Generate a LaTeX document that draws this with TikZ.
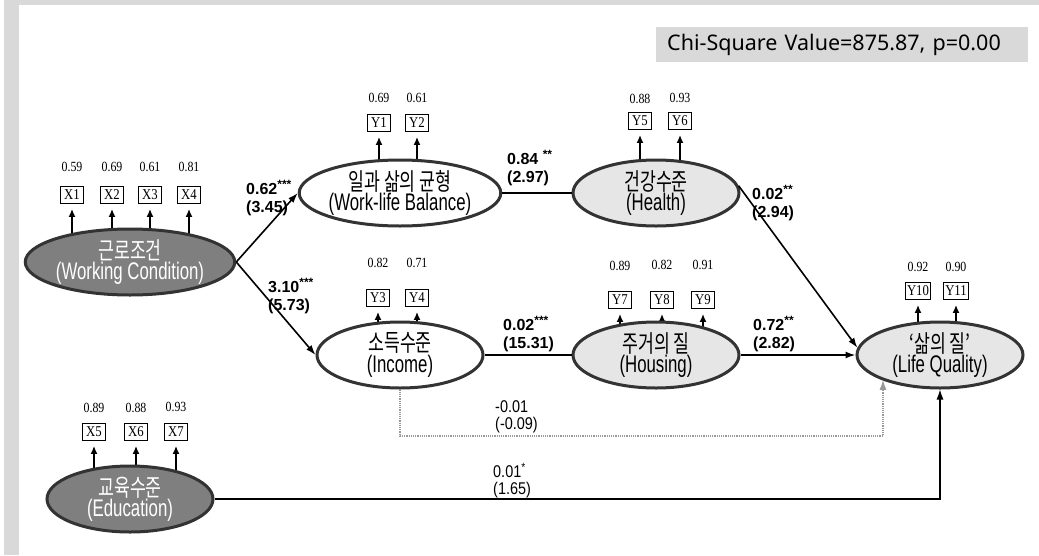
\documentclass[tikz,border=0pt]{standalone}
\usepackage{fontspec}
\setmainfont{Liberation Serif}
\newfontfamily\krfont[FakeStretch=0.72]{Noto Sans CJK KR}
\newfontfamily\narrowfont[FakeStretch=0.7]{Liberation Sans}
\newfontfamily\narrowbfont[FakeStretch=0.85]{Liberation Sans}
\newfontfamily\labfont{Liberation Sans}
\newfontfamily\serifnarrow[FakeStretch=0.85]{Liberation Serif}
\newfontfamily\chifont{Noto Sans}
\usetikzlibrary{shapes.geometric,arrows.meta}
\pgfdeclarelayer{back}
\pgfdeclarelayer{bg}
\pgfsetlayers{back,bg,main}
\definecolor{dkfill}{HTML}{7F7F7F}
\definecolor{ltfill}{HTML}{E6E6E6}
\definecolor{edgec}{HTML}{333333}
\definecolor{framec}{HTML}{D9D9D9}
\definecolor{chibg}{HTML}{D9D9D9}
\newcommand{\lv}[2]{{\krfont\fontsize{24}{26}\selectfont #1}\\{\narrowfont\fontsize{24}{26}\selectfont #2}}
\newcommand{\st}[1]{\raisebox{6pt}{\fontsize{12}{12}\selectfont #1}}
\tikzset{
  lat/.style={ellipse, draw=edgec, line width=3pt, minimum width=166, minimum height=66, inner sep=0pt, align=center},
  latdark/.style={lat, fill=dkfill, text=white},
  latlight/.style={lat, fill=ltfill},
  latwhite/.style={lat, fill=white},
  ind/.style={draw, line width=0.8pt, minimum width=23, minimum height=17, inner sep=1.5pt, font=\serifnarrow\fontsize{15}{15}\selectfont},
  ld/.style={inner sep=0pt, font=\serifnarrow\fontsize{14}{14}\selectfont},
  indarr/.style={-{Latex[length=8pt,width=7pt]}, line width=1.9pt, shorten >=5pt},
  pth/.style={line width=1.6pt, draw=black},
  parr/.style={pth, -{Latex[length=10pt,width=7pt]}},
  coef/.style={anchor=west, inner sep=0pt, align=left, font=\labfont\bfseries\fontsize{16}{18}\selectfont},
  coefn/.style={anchor=west, inner sep=0pt, align=left, font=\narrowbfont\fontsize{17}{17}\selectfont},
  chibox/.style={fill=chibg, anchor=west, text width=350, inner xsep=11, minimum height=35, align=left, font=\chifont\fontsize{21.5}{21.5}\selectfont}
}
\begin{document}
\begin{tikzpicture}[x=1pt,y=-1pt]
\useasboundingbox (0,0) rectangle (1039,555);
\begin{pgfonlayer}{back}
\fill[white] (0,0) rectangle (1039,555);
\fill[framec] (4,0) rectangle (19,555);
\fill[framec] (4,0) rectangle (1039,5);
\end{pgfonlayer}

\node[chibox] (chi) at (656,44.5) {Chi-Square Value=875.87, p=0.00};

% latent variables
\node[latdark]  (wc)  at (130,262) {\lv{근로조건}{(Working Condition)}};
\node[latwhite] (wlb) at (400,193) {\lv{일과 삶의 균형}{(Work-life Balance)}};
\node[latlight] (hl)  at (656,193) {\lv{건강수준}{(Health)}};
\node[latwhite] (inc) at (400,355) {\lv{소득수준}{(Income)}};
\node[latlight] (hs)  at (656,355) {\lv{주거의 질}{(Housing)}};
\node[latlight] (lq)  at (940,355) {\lv{‘삶의 질’}{(Life Quality)}};
\node[latdark]  (edu) at (130,499) {\lv{교육수준}{(Education)}};

% indicators
\node[ind] (x1) at (72,195) {X1};   \node[ld] (lx1) at (72,167) {0.59};
\node[ind] (x2) at (112,195) {X2};  \node[ld] (lx2) at (112,167) {0.69};
\node[ind] (x3) at (150,195) {X3};  \node[ld] (lx3) at (150,167) {0.61};
\node[ind] (x4) at (189,195) {X4};  \node[ld] (lx4) at (189,167) {0.81};

\node[ind] (y1) at (379,123) {Y1};  \node[ld] (ly1) at (379,98) {0.69};
\node[ind] (y2) at (417,123) {Y2};  \node[ld] (ly2) at (417,98) {0.61};
\node[ind] (y5) at (640,121) {Y5};  \node[ld] (ly5) at (640,99) {0.88};
\node[ind] (y6) at (680,121) {Y6};  \node[ld] (ly6) at (680,98) {0.93};

\node[ind] (y3) at (378,298) {Y3};  \node[ld] (ly3) at (378,263) {0.82};
\node[ind] (y4) at (417,298) {Y4};  \node[ld] (ly4) at (417,263) {0.71};
\node[ind] (y7) at (620,300) {Y7};  \node[ld] (ly7) at (620,266) {0.89};
\node[ind] (y8) at (662,300) {Y8};  \node[ld] (ly8) at (662,265) {0.82};
\node[ind] (y9) at (703,300) {Y9};  \node[ld] (ly9) at (703,265) {0.91};

\node[ind] (y10) at (918,291) {Y10}; \node[ld] (ly10) at (918,267) {0.92};
\node[ind] (y11) at (956,291) {Y11}; \node[ld] (ly11) at (956,267) {0.90};

\node[ind] (x5) at (94,432) {X5};   \node[ld] (lx5) at (94,408) {0.89};
\node[ind] (x6) at (136,432) {X6};  \node[ld] (lx6) at (136,408) {0.88};
\node[ind] (x7) at (176,432) {X7};  \node[ld] (lx7) at (176,407) {0.93};

\begin{pgfonlayer}{bg}
  \foreach \v in {x1,x2,x3,x4} \draw[indarr] (wc.center -| \v.south) -- (\v.south);
  \foreach \v in {y1,y2} \draw[indarr] (wlb.center -| \v.south) -- (\v.south);
  \foreach \v in {y5,y6} \draw[indarr] (hl.center -| \v.south) -- (\v.south);
  \foreach \v in {y3,y4} \draw[indarr] (inc.center -| \v.south) -- (\v.south);
  \foreach \v in {y7,y8,y9} \draw[indarr] (hs.center -| \v.south) -- (\v.south);
  \foreach \v in {y10,y11} \draw[indarr] (lq.center -| \v.south) -- (\v.south);
  \foreach \v in {x5,x6,x7} \draw[indarr] (edu.center -| \v.south) -- (\v.south);
\end{pgfonlayer}

% structural paths
\coordinate (dq) at (883,436);
\draw[parr] (wc.east) -- (wlb.west);
\draw[parr] (wc.east) -- (inc.west);
\draw[pth] (wlb.east) -- (hl.west);
\draw[pth] (inc.east) -- (hs.west);
\draw[parr] (hl.5) -- (lq.175);
\draw[parr] (hs.east) -- (lq.west);
\draw[gray!80, line width=1.2pt, densely dotted, -{Latex[length=10pt,width=7pt]}] (inc.south) |- (dq) -- (dq |- lq.203);
\draw[line width=1.2pt, -{Latex[length=10pt,width=7pt]}] (edu.east) -| (lq.south);

% coefficients
\node[coef] (c1) at (246,198) {0.62\st{***}\\(3.45)};
\node[coef] (c2) at (268,296) {3.10\st{***}\\(5.73)};
\node[coef] (c3) at (507,168) {0.84 \st{**}\\(2.97)};
\node[coef] (c4) at (503,334) {0.02\st{***}\\(15.31)};
\node[coef] (c5) at (752,203) {0.02\st{**}\\(2.94)};
\node[coef] (c6) at (753,334) {0.72\st{**}\\(2.82)};
\node[coefn] (c7) at (495,417) {-0.01\\(-0.09)};
\node[coefn] (c8) at (493,481) {0.01\st{*}\\(1.65)};
\end{tikzpicture}
\end{document}
